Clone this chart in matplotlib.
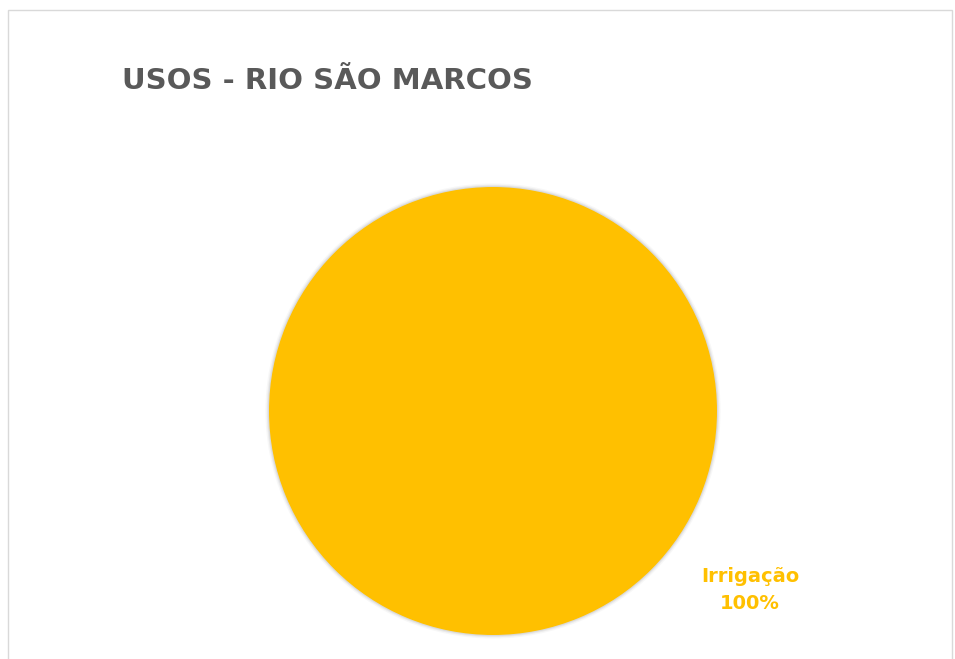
import matplotlib.pyplot as plt
from matplotlib.patches import Rectangle, Circle

# data
categories = ['Irrigação']
values = [100]
colors = ['#FFC000']
title = 'USOS - RIO SÃO MARCOS'

fig = plt.figure(figsize=(9.55, 6.59), dpi=100)

# chart area frame
fig.patches.append(Rectangle((8 / 955, -0.01), 944 / 955, 1 - 10 / 659 + 0.01,
                             transform=fig.transFigure, fill=False,
                             edgecolor='#D9D9D9', linewidth=1))

fig.text(122 / 955, 1 - 81 / 659, title, fontsize=21, fontweight='heavy',
         color='#595959', va='center', ha='left')

# pie centre (493, 411) px, radius 224 px; axes padded 5% for the shadow
m = 1.05
r_px = 224
ax = fig.add_axes([(493 - r_px * m) / 955, (659 - 411 - r_px * m) / 659,
                   2 * r_px * m / 955, 2 * r_px * m / 659])
# soft shadow around the pie
for r, a in [(1.016, 0.06), (1.010, 0.10), (1.005, 0.15)]:
    ax.add_patch(Circle((0, 0), r, color='#808080', alpha=a, lw=0, zorder=0))
wedges, _ = ax.pie(values, colors=colors, startangle=90, counterclock=False,
                   wedgeprops={'linewidth': 0, 'zorder': 1})
ax.set_xlim(-m, m)
ax.set_ylim(-m, m)
ax.set_aspect('equal')
ax.axis('off')

total = sum(values)
for cat, v, c in zip(categories, values, colors):
    ax.text(1.147, -0.80, f'{cat}\n{v / total:.0%}', color=c, fontsize=14,
            fontweight='bold', ha='center', va='center', linespacing=1.55,
            clip_on=False)

fig.savefig('out.png', dpi=100)
